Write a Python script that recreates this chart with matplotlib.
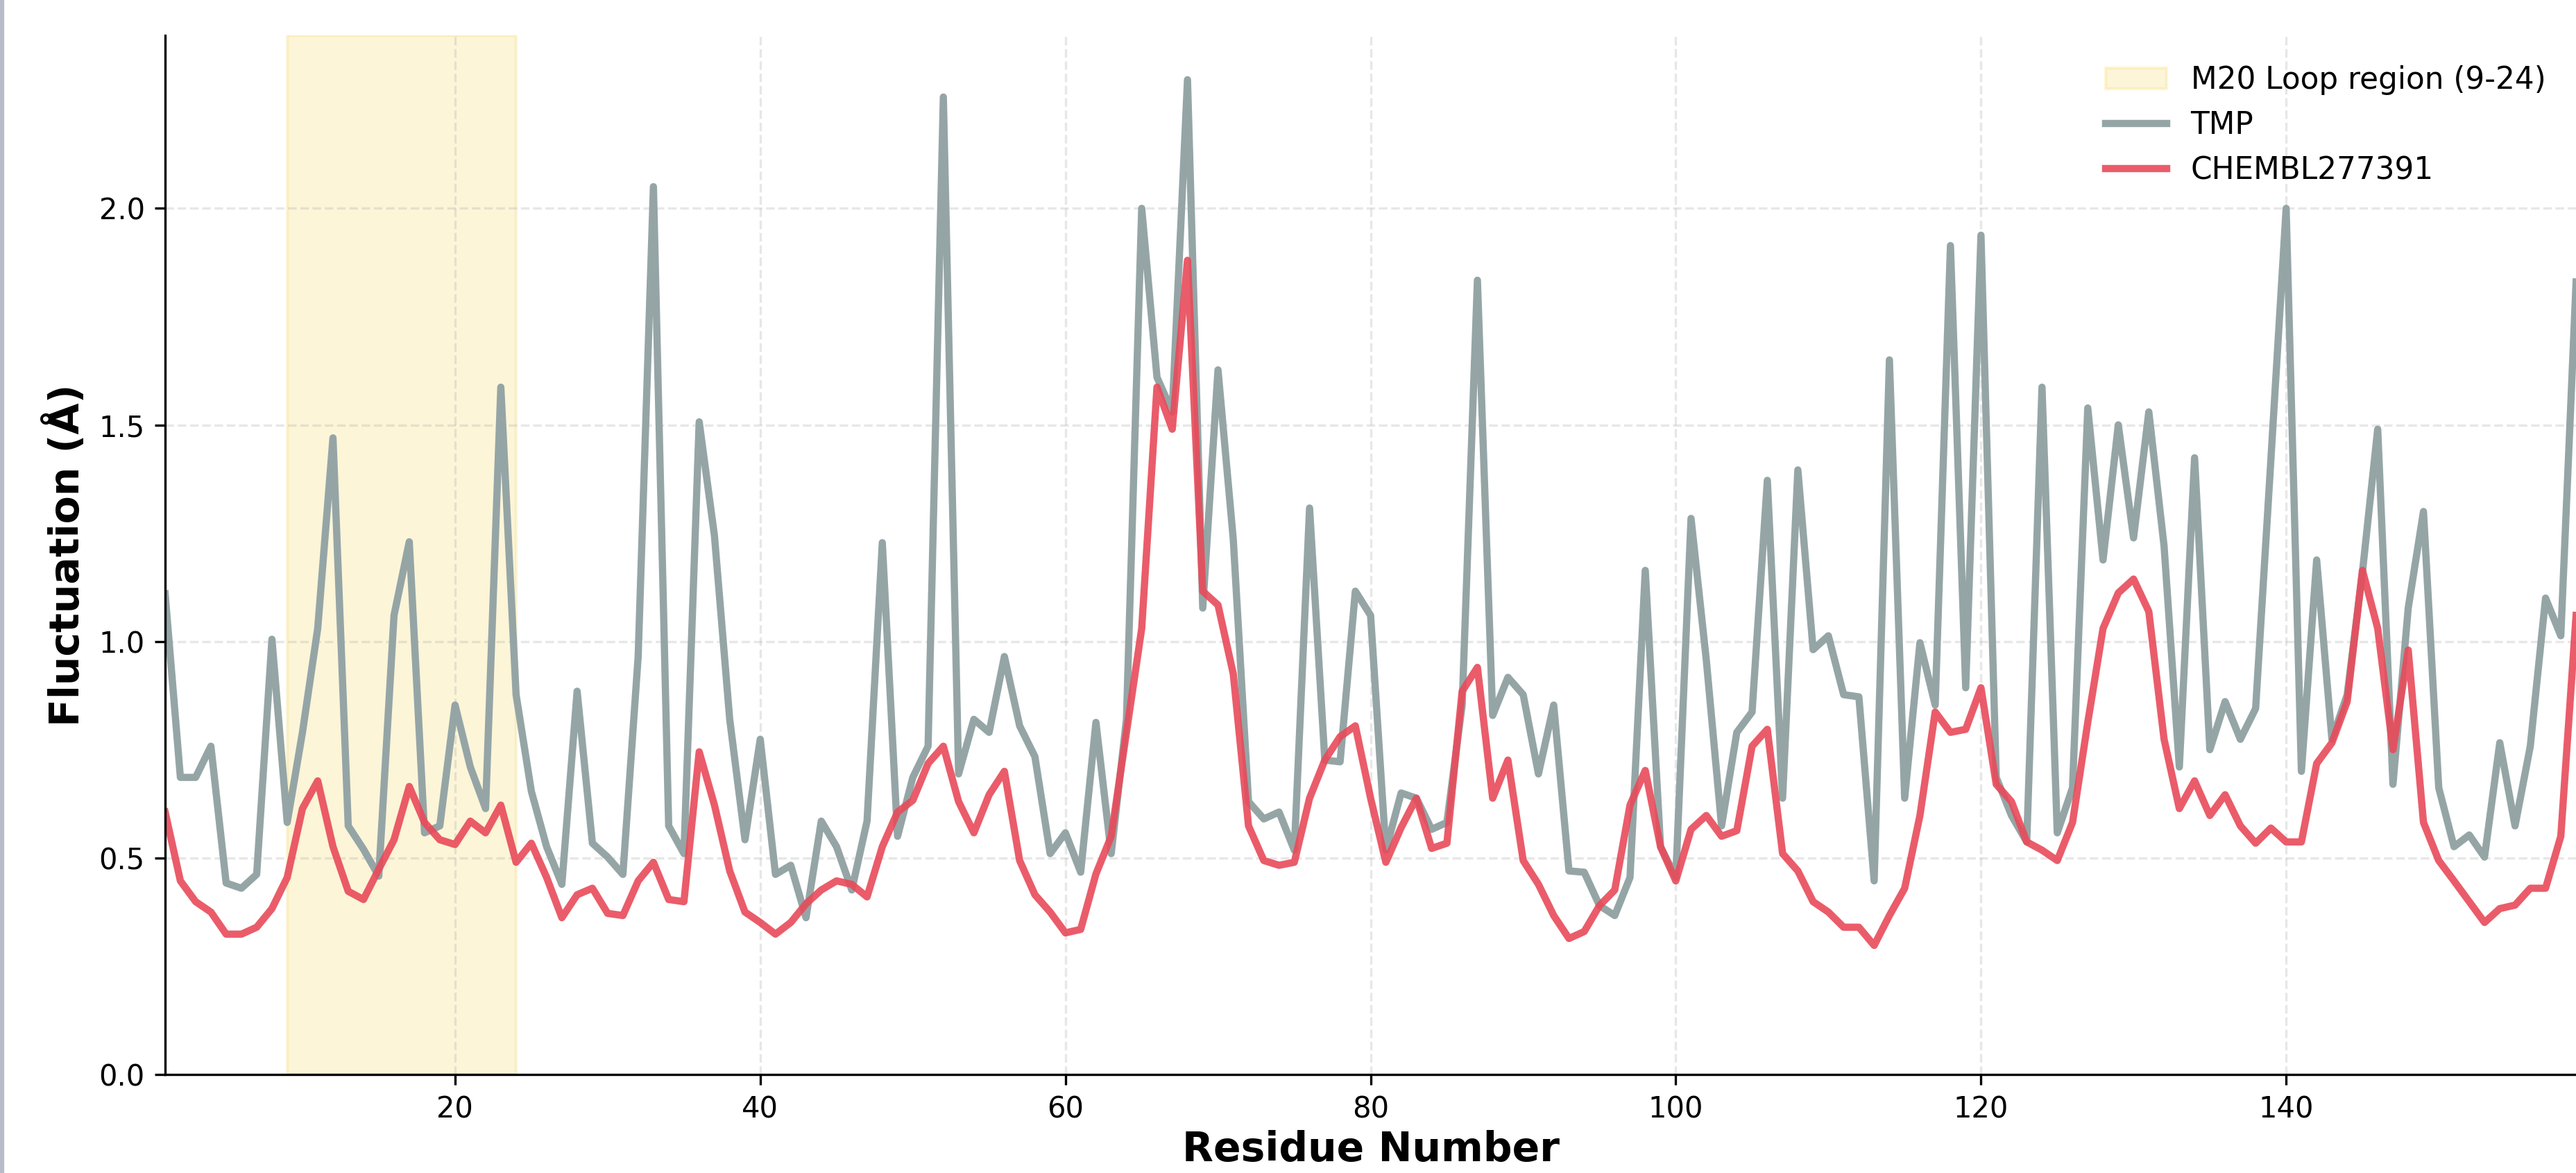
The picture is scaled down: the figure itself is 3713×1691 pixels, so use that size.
import numpy as np
import matplotlib
matplotlib.use('Agg')
import matplotlib.pyplot as plt

# RMSF per residue
tmp = [1.11, 0.686, 0.686, 0.758, 0.442, 0.43, 0.462, 1.005, 0.582, 0.79,
       1.03, 1.47, 0.574, 0.52, 0.458, 1.06, 1.23, 0.558, 0.574, 0.853,
       0.71, 0.614, 1.587, 0.877, 0.654, 0.526, 0.439, 0.885, 0.534, 0.502,
       0.462, 0.965, 2.05, 0.574, 0.51, 1.507, 1.244, 0.82, 0.542, 0.774,
       0.462, 0.483, 0.362, 0.585, 0.526, 0.426, 0.585, 1.228, 0.55, 0.686,
       0.758, 2.257, 0.694, 0.82, 0.79, 0.965, 0.805, 0.734, 0.51, 0.558,
       0.467, 0.813, 0.51, 0.82, 2.0, 1.61, 1.53, 2.297, 1.077, 1.627,
       1.236, 0.63, 0.59, 0.606, 0.518, 1.308, 0.726, 0.722, 1.116, 1.06,
       0.518, 0.65, 0.638, 0.566, 0.582, 0.853, 1.834, 0.829, 0.917, 0.877,
       0.694, 0.853, 0.47, 0.467, 0.39, 0.367, 0.455, 1.164, 0.526, 0.455,
       1.284, 0.957, 0.574, 0.79, 0.837, 1.372, 0.638, 1.396, 0.981, 1.013,
       0.877, 0.872, 0.447, 1.65, 0.638, 0.997, 0.853, 1.914, 0.893, 1.938,
       0.686, 0.598, 0.537, 1.587, 0.558, 0.662, 1.539, 1.188, 1.5, 1.239,
       1.53, 1.22, 0.71, 1.424, 0.75, 0.861, 0.774, 0.845, 1.42, 2.0,
       0.70, 1.188, 0.774, 0.877, 1.16, 1.49, 0.67, 1.077, 1.30, 0.662,
       0.526, 0.553, 0.502, 0.766, 0.574, 0.758, 1.10, 1.013, 1.83]

chembl = [0.606, 0.447, 0.399, 0.375, 0.324, 0.324, 0.34, 0.383, 0.455, 0.614,
          0.678, 0.526, 0.423, 0.404, 0.474, 0.542, 0.665, 0.582, 0.542, 0.531,
          0.585, 0.558, 0.622, 0.49, 0.534, 0.455, 0.362, 0.415, 0.43, 0.372,
          0.367, 0.447, 0.49, 0.404, 0.399, 0.745, 0.622, 0.47, 0.375, 0.351,
          0.324, 0.351, 0.394, 0.426, 0.447, 0.439, 0.41, 0.526, 0.606, 0.633,
          0.718, 0.758, 0.63, 0.558, 0.646, 0.70, 0.494, 0.415, 0.375, 0.327,
          0.335, 0.463, 0.55, 0.79, 1.03, 1.587, 1.49, 1.88, 1.116, 1.084,
          0.925, 0.574, 0.494, 0.483, 0.49, 0.638, 0.726, 0.78, 0.805, 0.638,
          0.49, 0.57, 0.638, 0.522, 0.534, 0.885, 0.94, 0.638, 0.726, 0.494,
          0.439, 0.367, 0.314, 0.33, 0.39, 0.426, 0.622, 0.702, 0.526, 0.447,
          0.566, 0.598, 0.55, 0.563, 0.758, 0.797, 0.51, 0.47, 0.399, 0.375,
          0.34, 0.34, 0.298, 0.367, 0.43, 0.598, 0.837, 0.79, 0.797, 0.893,
          0.67, 0.63, 0.537, 0.518, 0.494, 0.582, 0.813, 1.03, 1.112, 1.144,
          1.069, 0.774, 0.614, 0.678, 0.598, 0.646, 0.574, 0.534, 0.569, 0.537,
          0.537, 0.718, 0.766, 0.861, 1.164, 1.03, 0.75, 0.98, 0.582, 0.494,
          0.447, 0.399, 0.351, 0.383, 0.391, 0.43, 0.43, 0.55, 1.06]

residues = np.arange(1, len(tmp) + 1)
loop_start, loop_end = 9, 24

fig = plt.figure(figsize=(12.377, 5.637), dpi=300)
ax = fig.add_axes([0.0641, 0.084, 0.9359, 0.886])

ax.axvspan(loop_start, loop_end, color='#f4d03f', alpha=0.2,
           label=f'M20 Loop region ({loop_start}-{loop_end})')
ax.plot(residues, tmp, color='#95a5a6', lw=2.5, label='TMP')
ax.plot(residues, chembl, color='#e84a5a', lw=2.5, alpha=0.9, label='CHEMBL277391')

ax.set_xlim(1, len(tmp))
ax.set_ylim(0, 2.4)
ax.set_xticks([20, 40, 60, 80, 100, 120, 140])
ax.set_yticks([0.0, 0.5, 1.0, 1.5, 2.0])
ax.tick_params(labelsize=10)
ax.set_xlabel('Residue Number', fontsize=14, fontweight='bold', labelpad=2)
ax.set_ylabel('Fluctuation (Å)', fontsize=14, fontweight='bold')
ax.grid(True, linestyle='--', alpha=0.3)
ax.spines['top'].set_visible(False)
ax.spines['right'].set_visible(False)
ax.legend(loc='upper right', frameon=False, fontsize=10.5,
          borderaxespad=0.6)

# thin window border on the left edge of the screenshot
fig.add_artist(plt.Line2D([0.0008, 0.0008], [0, 1], color='#b8bcc8', lw=1.5))

fig.savefig('out.png', dpi=300)
